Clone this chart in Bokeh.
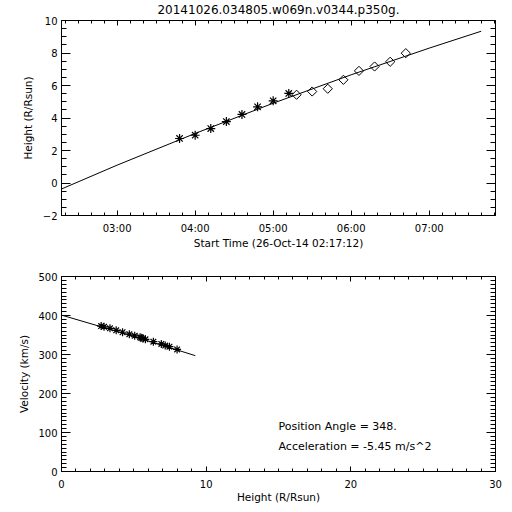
import numpy as np
import pandas as pd
from bokeh.plotting import figure
from bokeh.layouts import column
from bokeh.models import (Range1d, LinearAxis, FixedTicker, SingleIntervalTicker,
                          DatetimeTickFormatter, Label, CustomLabelingPolicy)
from bokeh.embed import file_html
from bokeh.resources import INLINE

# ---------------- data ----------------
TITLE = "20141026.034805.w069n.v0344.p350g."
X_LABEL_TOP = "Start Time (26-Oct-14 02:17:12)"
Y_LABEL_TOP = "Height (R/Rsun)"
X_LABEL_BOT = "Height (R/Rsun)"
Y_LABEL_BOT = "Velocity (km/s)"
ANNOT_PA = "Position Angle =  348."
ANNOT_ACC = "Acceleration =  -5.45 m/s^2"

DAY = "2014-10-26 "
X_START = "02:17:12"
X_END = "07:51:00"
hour_ticks = ["03:00", "04:00", "05:00", "06:00", "07:00"]

c2_times = ["03:48", "04:00", "04:12", "04:24", "04:36", "04:48", "05:00", "05:12"]
c2_heights = [2.74, 2.94, 3.35, 3.78, 4.22, 4.69, 5.06, 5.51]
c3_times = ["05:18", "05:30", "05:42", "05:54", "06:06", "06:18", "06:30", "06:42"]
c3_heights = [5.43, 5.63, 5.80, 6.35, 6.90, 7.17, 7.46, 7.99]

fit_times = ["02:17:12", "03:00", "04:00", "05:00", "06:00", "07:00", "07:40"]
fit_heights = [-0.37, 1.10, 3.05, 4.91, 6.66, 8.30, 9.34]

vel_heights = c2_heights + c3_heights
velocities = [373, 371, 367, 362, 357, 352, 348, 343, 344, 341, 339, 333, 327, 323, 320, 313]
vfit_heights = [0.0, 4.6, 9.25]
vfit_vel = [401, 351, 297]

# ---------------- helpers ----------------
FONT = "DejaVu Sans"
NO_LABELS = CustomLabelingPolicy(code="return new Set()")


def ts(s):
    return pd.Timestamp(DAY + s).value / 1e6


def style_axis(ax, major, minor, label_size="10px", axis_label_size="10.5px"):
    ax.major_tick_in = major
    ax.major_tick_out = 0
    ax.minor_tick_in = minor
    ax.minor_tick_out = 0
    ax.major_tick_line_color = "black"
    ax.minor_tick_line_color = "black"
    ax.axis_line_color = "black"
    ax.major_label_text_font = FONT
    ax.major_label_text_font_size = label_size
    ax.major_label_text_color = "black"
    ax.axis_label_text_font = FONT
    ax.axis_label_text_font_size = axis_label_size
    ax.axis_label_text_font_style = "normal"
    ax.axis_label_text_color = "black"


def mirror_axis(p, ticker, side, major, minor):
    ax = LinearAxis(ticker=ticker)
    style_axis(ax, major, minor)
    ax.major_label_text_font_size = "1px"
    ax.major_label_policy = NO_LABELS
    ax.major_label_standoff = 0
    ax.axis_line_color = None
    p.add_layout(ax, side)


def base_style(p):
    p.outline_line_color = "black"
    p.outline_line_width = 1
    p.outline_line_alpha = 1.0
    p.grid.visible = False
    p.background_fill_color = "white"
    p.border_fill_color = "white"


# ---------------- top: height vs time ----------------
p1 = figure(frame_width=434, frame_height=195, x_axis_type="datetime",
            x_range=Range1d(ts(X_START), ts(X_END)), y_range=Range1d(-2, 10),
            output_backend="svg", toolbar_location=None, title=TITLE,
            min_border_left=61, min_border_right=17, min_border_top=20, min_border_bottom=36)
base_style(p1)
p1.title.align = "center"
p1.title.text_font = FONT
p1.title.text_font_size = "12px"
p1.title.text_font_style = "normal"
p1.title.text_color = "black"
p1.title.standoff = 0

xt = FixedTicker(ticks=[ts(h) for h in hour_ticks],
                 minor_ticks=[t.value / 1e6 for t in pd.date_range(DAY + "02:20", DAY + "07:50", freq="10min")])
p1.xaxis[0].ticker = xt
p1.xaxis[0].formatter = DatetimeTickFormatter(hours="%H:%M", hourmin="%H:%M", minutes="%H:%M",
                                              minsec="%H:%M", days="%H:%M")
style_axis(p1.xaxis[0], 5, 3)
p1.xaxis[0].axis_label = X_LABEL_TOP
p1.xaxis[0].major_label_standoff = 7
p1.xaxis[0].axis_label_standoff = 0

yt1 = SingleIntervalTicker(interval=2, num_minor_ticks=4)
p1.yaxis[0].ticker = yt1
style_axis(p1.yaxis[0], 9, 5)
p1.yaxis[0].axis_label = Y_LABEL_TOP
p1.yaxis[0].major_label_standoff = 4
p1.yaxis[0].axis_label_standoff = 6

mirror_axis(p1, xt, "above", 5, 3)
mirror_axis(p1, yt1, "right", 9, 5)

p1.line([ts(t) for t in fit_times], fit_heights, line_color="black", line_width=1)
p1.scatter([ts(t) for t in c2_times], c2_heights, marker="asterisk", size=9,
           line_color="black", line_width=1.2)
p1.scatter([ts(t) for t in c3_times], c3_heights, marker="square", angle=np.pi / 4, size=6.5,
           fill_color=None, line_color="black", line_width=1)

# ---------------- bottom: velocity vs height ----------------
p2 = figure(frame_width=434, frame_height=195,
            x_range=Range1d(0, 30), y_range=Range1d(0, 500),
            output_backend="svg", toolbar_location=None,
            min_border_left=61, min_border_right=17, min_border_top=25, min_border_bottom=34)
base_style(p2)

xt2 = SingleIntervalTicker(interval=10, num_minor_ticks=10)
yt2 = SingleIntervalTicker(interval=100, num_minor_ticks=10)
p2.xaxis[0].ticker = xt2
p2.yaxis[0].ticker = yt2
style_axis(p2.xaxis[0], 5, 3)
style_axis(p2.yaxis[0], 9, 5)
p2.xaxis[0].axis_label = X_LABEL_BOT
p2.yaxis[0].axis_label = Y_LABEL_BOT
p2.xaxis[0].major_label_standoff = 8
p2.xaxis[0].axis_label_standoff = 0
p2.yaxis[0].major_label_standoff = 4
p2.yaxis[0].axis_label_standoff = 5
mirror_axis(p2, xt2, "above", 5, 3)
mirror_axis(p2, yt2, "right", 9, 5)

p2.line(vfit_heights, vfit_vel, line_color="black", line_width=1)
p2.scatter(vel_heights, velocities, marker="asterisk", size=8, line_color="black", line_width=1.2)

p2.add_layout(Label(x=15.0, y=115, text=ANNOT_PA, text_align="left", text_baseline="middle",
                    text_font=FONT, text_font_size="11px", text_color="black"))
p2.add_layout(Label(x=15.0, y=64, text=ANNOT_ACC, text_align="left", text_baseline="middle",
                    text_font=FONT, text_font_size="11px", text_color="black"))

layout = column(p1, p2, spacing=0)
open("out.html", "w").write(file_html(layout, INLINE))
